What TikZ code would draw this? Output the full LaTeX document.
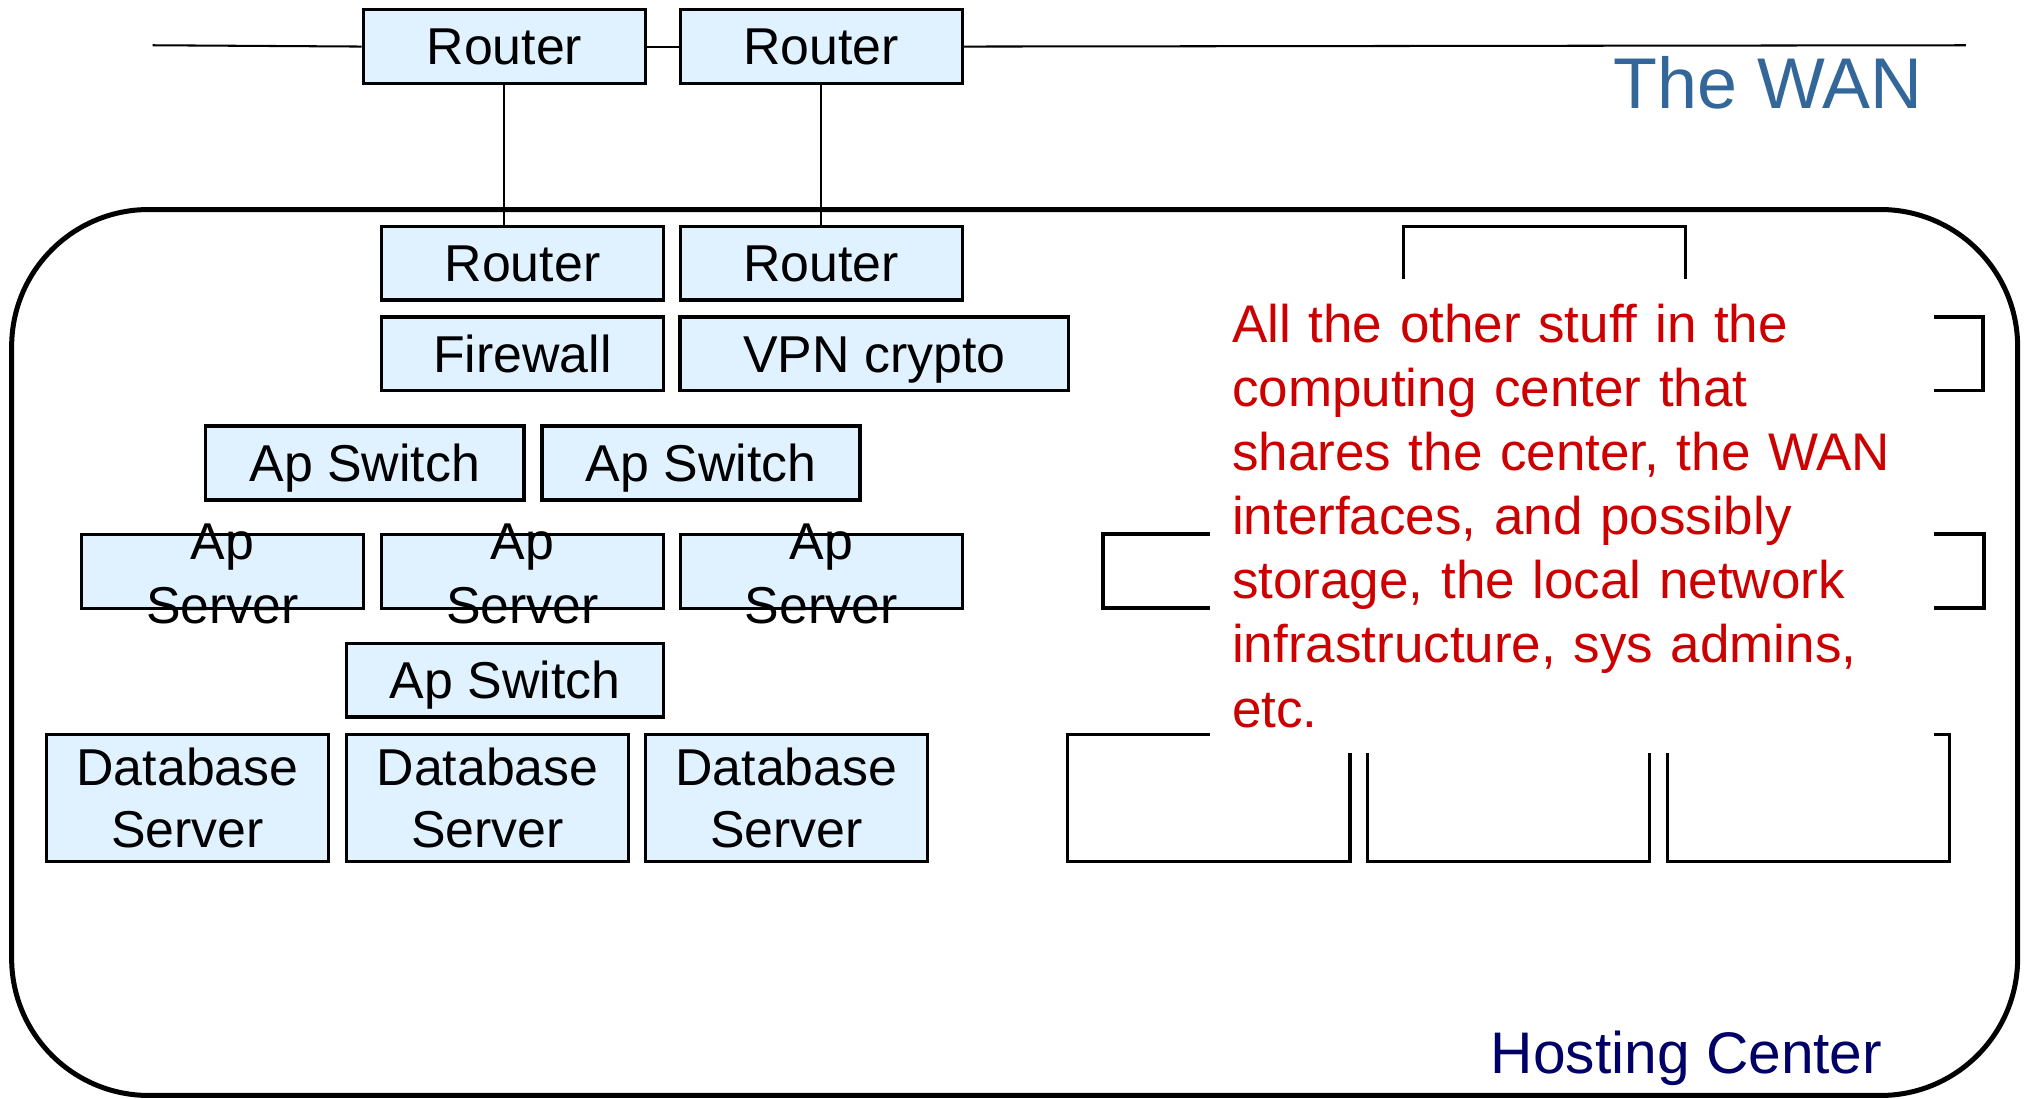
\documentclass[tikz,border=0pt]{standalone}
\usepackage{fontspec}
\setmainfont{Liberation Sans}
\usepackage{tikz}
\pgfdeclarelayer{bg}
\pgfsetlayers{bg,main}
\definecolor{boxblue}{RGB}{224,242,255}
\definecolor{wanblue}{RGB}{51,102,153}
\definecolor{hostblue}{RGB}{0,0,102}
\definecolor{noteRed}{RGB}{204,0,0}
\tikzset{
    every node/.style={inner sep=0mm},
    boxbase/.style={rectangle, draw, line width=.75pt, minimum width=2.18cm, font=\fontsize{11.4}{13.6}\selectfont},
    box/.style={boxbase, fill=boxblue, minimum height=.57cm, text height=8.1pt, text depth=0pt},
    apbox/.style={boxbase, fill=boxblue, minimum height=.57cm},
    dbbox/.style={boxbase, fill=boxblue, minimum height=.98cm, align=center},
    spare/.style={boxbase, fill=white, minimum height=.57cm},
    tallspare/.style={spare, minimum height=.98cm},
    wanline/.style={line width=.45pt}
}
\newcommand{\apsrv}{\smash{\raisebox{2.6pt}{\fontsize{11.4}{13.9}\selectfont
    \begin{tabular}[t]{@{}c@{}}Ap\\Server\end{tabular}}}}

\begin{document}
\begin{tikzpicture}[x=0.01cm, y=-0.01cm]
        \useasboundingbox (0,0) rectangle (1568,849);
        \coordinate (wanL) at (118,35);
        \coordinate (wanR) at (1520,35);
        \node (wr1) [box] at (390,36) {Router};
        \node (wr2) [box] at (635,36) {Router};
        \node (wan) [anchor=base east, text=wanblue, font=\fontsize{15.8}{19}\selectfont] at (1487,84) {The WAN};
        \draw [line width=1.1pt, rounded corners=1.06cm] (9,162) rectangle (1560,847);
        \node (hr1) [box] at (404,203.5) {Router};
        \node (hr2) [box] at (635,203.5) {Router};
        \node (fw) [box] at (404,273.5) {Firewall};
        \node (vpn) [box, minimum width=3cm] at (676,273.5) {VPN crypto};
        \node (sw1) [box, minimum width=2.46cm] at (282,358) {Ap Switch};
        \node (sw2) [box, minimum width=2.46cm] at (542,358) {Ap Switch};
        \node (as1) [apbox] at (172,442) {\apsrv};
        \node (as2) [apbox] at (404,442) {\apsrv};
        \node (as3) [apbox] at (635,442) {\apsrv};
        \node (sw3) [box, minimum width=2.45cm] at (390.5,526) {Ap Switch};
        \node (db1) [dbbox] at (145,617) {Database\\Server};
        \node (db2) [dbbox] at (377,617) {Database\\Server};
        \node (db3) [dbbox] at (608,617) {Database\\Server};
        % the rest of the center, mostly hidden by the note
        \node (ob1) [spare] at (1194,203.5) {};
        \node (ob2) [spare] at (1424,273.5) {};
        \node (ob3) [spare] at (962,441.5) {};
        \node (ob4) [spare] at (1425,441.5) {};
        \node (ob5) [tallspare] at (934.6,617) {};
        \node (ob6) [tallspare] at (1166.5,617) {};
        \node (ob7) [tallspare] at (1398.2,617) {};
        \node (note) [anchor=north west, fill=white, text=noteRed, text width=5.25cm, inner xsep=.17cm,
                minimum height=3.66cm, align=left, font=\fontsize{11.65}{14.1}\selectfont] at (935,215)
                {All the other stuff in the\\computing center that\\shares the center, the WAN\\
                 interfaces, and possibly\\storage, the local network\\infrastructure, sys admins,\\etc.};
        \node (host) [anchor=base east, text=hostblue, font=\fontsize{12.9}{15.5}\selectfont] at (1456,830) {Hosting Center};
        \begin{pgfonlayer}{bg}
                \draw (wanL) edge [wanline] (wr1.west);
                \draw (wr1.east) edge [wanline] (wr2.west);
                \draw (wr2.east) edge [wanline] (wanR);
                \draw (wr1.south) edge [wanline] (wr1.south |- hr1.north);
                \draw (wr2.south) edge [wanline] (hr2.north);
        \end{pgfonlayer}
\end{tikzpicture}
\end{document}
